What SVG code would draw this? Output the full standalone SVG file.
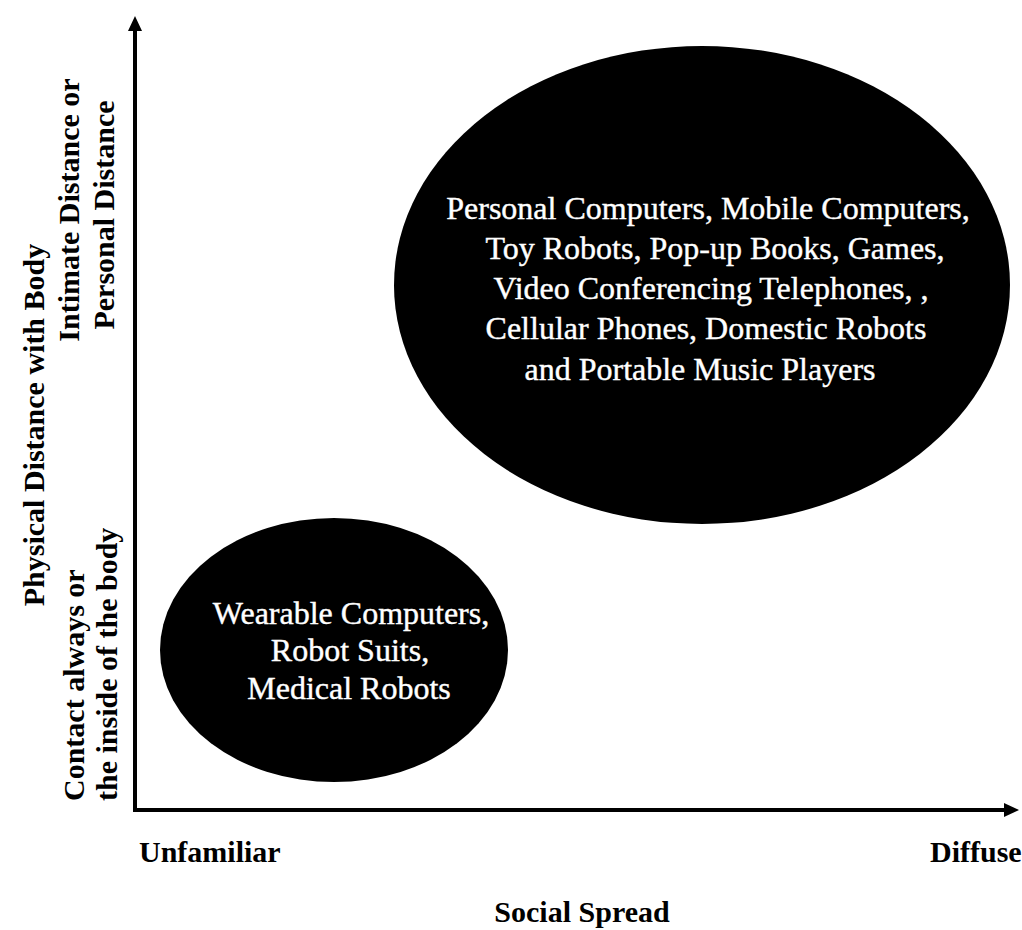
<svg xmlns="http://www.w3.org/2000/svg" width="1022" height="930" viewBox="0 0 1022 930">
  <defs>
    <marker id="arrowHead" markerUnits="userSpaceOnUse" markerWidth="16" markerHeight="16" refX="2" refY="7" orient="auto">
      <path d="M0,0 L15,7 L0,14 Z" fill="#000"/>
    </marker>
    <style>
      .axis { stroke: #000; stroke-width: 4; fill: none; }
      .blob { fill: #000; }
      .inner { font-family: "Liberation Serif", "Times New Roman", serif; font-size: 32px; fill: #fff; stroke: #fff; stroke-width: 0.4; text-anchor: middle; }
      .label { font-family: "Liberation Serif", "Times New Roman", serif; font-size: 30px; font-weight: bold; fill: #000; }
    </style>
  </defs>
  <rect width="1022" height="930" fill="#fff"/>

  <!-- axes -->
  <g id="connectors">
    <line class="axis" x1="135" y1="812" x2="135" y2="29" marker-end="url(#arrowHead)"/>
    <line class="axis" x1="133" y1="810" x2="1006" y2="810" marker-end="url(#arrowHead)"/>
  </g>

  <!-- everyday devices -->
  <g id="node-diffuse">
    <ellipse class="blob" cx="702" cy="285" rx="308" ry="239"/>
    <text class="inner" x="708" y="219">Personal Computers, Mobile Computers,</text>
    <text class="inner" x="715" y="259">Toy Robots, Pop-up Books, Games,</text>
    <text class="inner" x="711" y="299">Video Conferencing Telephones, ,</text>
    <text class="inner" x="706" y="339">Cellular Phones, Domestic Robots</text>
    <text class="inner" x="700" y="380">and Portable Music Players</text>
  </g>

  <!-- body-worn devices -->
  <g id="node-unfamiliar">
    <ellipse class="blob" cx="334" cy="650" rx="174" ry="132"/>
    <text class="inner" x="351" y="624">Wearable Computers,</text>
    <text class="inner" x="350" y="661">Robot Suits,</text>
    <text class="inner" x="349" y="699">Medical Robots</text>
  </g>

  <!-- vertical axis labels -->
  <g id="label-y-title">
    <text class="label" text-anchor="middle" transform="translate(44,425) rotate(-90)">Physical Distance with Body</text>
  </g>
  <g id="label-y-high">
    <text class="label" text-anchor="middle" transform="translate(79,210) rotate(-90)">Intimate Distance or</text>
    <text class="label" text-anchor="middle" transform="translate(114,215) rotate(-90)">Personal Distance</text>
  </g>
  <g id="label-y-low">
    <text class="label" text-anchor="start" transform="translate(84,801) rotate(-90)">Contact always or</text>
    <text class="label" text-anchor="start" transform="translate(117,801) rotate(-90)">the inside of the body</text>
  </g>

  <!-- horizontal axis labels -->
  <g id="label-x-low">
    <text class="label" x="139" y="862">Unfamiliar</text>
  </g>
  <g id="label-x-high">
    <text class="label" x="930" y="862">Diffuse</text>
  </g>
  <g id="label-x-title">
    <text class="label" text-anchor="middle" x="582" y="922">Social Spread</text>
  </g>
</svg>
